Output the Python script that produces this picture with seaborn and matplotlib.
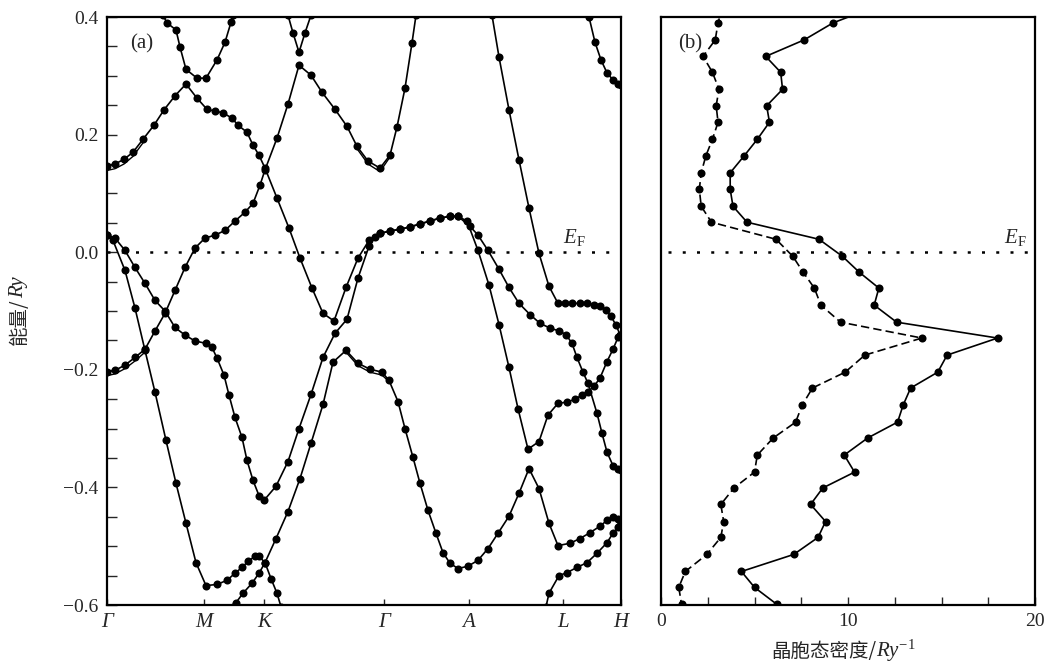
import numpy as np
import pandas as pd
import matplotlib
matplotlib.use("Agg")
import matplotlib.pyplot as plt
import seaborn as sns
from matplotlib.ticker import MultipleLocator, FixedLocator

sns.set_theme(style="white")
plt.rcParams["font.family"] = ["Liberation Serif", "Noto Sans CJK SC"]
plt.rcParams["mathtext.fontset"] = "custom"
plt.rcParams["mathtext.rm"] = "Liberation Serif"
plt.rcParams["mathtext.it"] = "Liberation Serif:italic"
plt.rcParams["axes.unicode_minus"] = True

# ---------------- data: band structure (k along path, E in Ry) ----------------
sym_labels = ["Γ", "M", "K", "Γ", "A", "L", "H"]
sym_k = [0, 97, 157, 277, 362, 456, 514]

band1_k = [0, 8, 17, 26, 36, 47, 57, 68, 79, 90, 100, 108, 116, 125, 131, 140, 146, 152, 158, 170,
           182, 193, 205, 216, 227, 239, 251, 262, 273, 283, 293, 303, 313, 323, 333, 343, 351, 360, 371, 382,
           392, 402, 411, 421, 432, 441, 451, 460, 468, 475, 481, 487, 493, 500, 506, 511, 514]
band1_E = [0.146, 0.150, 0.158, 0.170, 0.192, 0.216, 0.242, 0.266, 0.286, 0.262, 0.243, 0.240, 0.237, 0.228, 0.216, 0.204, 0.182, 0.165, 0.143, 0.092,
           0.041, -0.010, -0.061, -0.104, -0.117, -0.060, -0.010, 0.020, 0.032, 0.036, 0.039, 0.043, 0.048, 0.053, 0.058, 0.061, 0.061, 0.053, 0.003, -0.056,
           -0.123, -0.196, -0.266, -0.335, -0.322, -0.277, -0.257, -0.255, -0.250, -0.243, -0.237, -0.228, -0.214, -0.186, -0.165, -0.145, -0.141]

band2_k = [0, 8, 18, 28, 38, 48, 58, 68, 78, 88, 98, 108, 118, 128, 138, 146, 153, 158, 170, 181,
           192, 204, 215, 228, 240, 250, 261, 273, 283, 290, 298, 305, 309]
band2_E = [-0.204, -0.201, -0.192, -0.179, -0.165, -0.134, -0.104, -0.065, -0.026, 0.007, 0.024, 0.029, 0.037, 0.053, 0.068, 0.083, 0.114, 0.140, 0.194, 0.252,
           0.318, 0.301, 0.272, 0.243, 0.214, 0.180, 0.155, 0.143, 0.165, 0.213, 0.279, 0.356, 0.403]

band3_k = [0, 8, 18, 28, 38, 48, 58, 68, 78, 88, 99, 105, 110, 117, 122, 128, 135, 140, 146, 152,
           157, 169, 181, 192, 204, 216, 228, 240, 251, 262, 268, 273, 283, 293, 303, 313, 323, 333, 343, 351,
           363, 371, 381, 392, 402, 412, 423, 433, 443, 452, 459, 465, 470, 476, 481, 490, 495, 500, 506, 511, 514]
band3_E = [0.029, 0.024, 0.003, -0.026, -0.053, -0.082, -0.100, -0.128, -0.141, -0.151, -0.155, -0.162, -0.180, -0.209, -0.243, -0.281, -0.315, -0.354, -0.388, -0.414,
           -0.422, -0.398, -0.356, -0.300, -0.242, -0.179, -0.138, -0.114, -0.044, 0.010, 0.026, 0.032, 0.036, 0.039, 0.043, 0.048, 0.053, 0.058, 0.061, 0.061,
           0.044, 0.029, 0.003, -0.029, -0.060, -0.087, -0.106, -0.121, -0.129, -0.134, -0.140, -0.155, -0.179, -0.204, -0.223, -0.274, -0.308, -0.340, -0.363, -0.369, -0.371]

band4_k = [0, 6, 18, 28, 38, 48, 59, 69, 79, 89, 99, 110, 120, 128, 135, 141, 148, 152, 158, 164, 170, 174]
band4_E = [0.029, 0.020, -0.031, -0.095, -0.167, -0.238, -0.320, -0.393, -0.461, -0.528, -0.567, -0.565, -0.558, -0.546, -0.536, -0.526, -0.517, -0.517, -0.528, -0.555, -0.580, -0.603]

band5_k = [126, 129, 136, 145, 152, 158, 169, 181, 193, 204, 216, 226, 239, 251, 263, 275, 282, 291, 298, 306,
           313, 321, 329, 336, 343, 351, 361, 371, 381, 391, 402, 412, 422, 432, 442, 451, 463, 473, 483, 493,
           500, 506, 511, 514]
band5_E = [-0.603, -0.596, -0.580, -0.563, -0.546, -0.528, -0.487, -0.441, -0.385, -0.325, -0.259, -0.187, -0.167, -0.189, -0.199, -0.204, -0.218, -0.254, -0.300, -0.349,
           -0.393, -0.439, -0.478, -0.511, -0.529, -0.538, -0.534, -0.524, -0.504, -0.478, -0.449, -0.410, -0.368, -0.402, -0.461, -0.499, -0.495, -0.487, -0.477, -0.466,
           -0.456, -0.451, -0.453, -0.460]

band6_k = [439, 442, 452, 460, 470, 480, 490, 500, 506, 511, 514]
band6_E = [-0.603, -0.580, -0.550, -0.545, -0.536, -0.528, -0.512, -0.494, -0.478, -0.468, -0.463]

band7_k = [385, 392, 402, 412, 422, 432, 442, 451, 458, 465, 473, 480, 487, 493, 499, 504, 509, 513, 514]
band7_E = [0.403, 0.332, 0.242, 0.157, 0.075, -0.002, -0.058, -0.087, -0.087, -0.087, -0.087, -0.087, -0.089, -0.092, -0.099, -0.109, -0.124, -0.140, -0.141]

band8_k = [478, 482, 488, 494, 500, 506, 511, 514]
band8_E = [0.420, 0.400, 0.357, 0.327, 0.305, 0.293, 0.286, 0.284]

band9_k = [56, 60, 69, 73, 79, 90, 99, 110, 118, 124, 126]
band9_E = [0.403, 0.390, 0.378, 0.349, 0.311, 0.296, 0.296, 0.327, 0.357, 0.391, 0.403]

band10_k = [181, 186, 192, 198, 204]
band10_E = [0.403, 0.373, 0.340, 0.373, 0.403]

bands = [(band1_k, band1_E), (band2_k, band2_E), (band3_k, band3_E), (band4_k, band4_E),
         (band5_k, band5_E), (band6_k, band6_E), (band7_k, band7_E), (band8_k, band8_E),
         (band9_k, band9_E), (band10_k, band10_E)]

# second (solid, undotted) calculation where it separates from the dotted one
alt1_k = [0, 8, 17, 26, 36]
alt1_E = [0.139, 0.142, 0.150, 0.163, 0.186]
alt2_k = [0, 8, 18, 28, 38]
alt2_E = [-0.210, -0.207, -0.198, -0.185, -0.170]
alt3_k = [250, 261, 273, 283]
alt3_E = [0.176, 0.150, 0.137, 0.162]
alt4_k = [239, 251, 263, 275, 282]
alt4_E = [-0.170, -0.193, -0.204, -0.209, -0.220]
alts = [(alt1_k, alt1_E), (alt2_k, alt2_E), (alt3_k, alt3_E), (alt4_k, alt4_E)]

# ---------------- data: density of states ----------------
dos_E = [0.418, 0.390, 0.361, 0.333, 0.306, 0.277, 0.249, 0.221, 0.192, 0.164, 0.135, 0.107, 0.078, 0.051,
         0.022, -0.007, -0.034, -0.061, -0.090, -0.119, -0.146, -0.175, -0.204, -0.231, -0.260, -0.289,
         -0.316, -0.345, -0.374, -0.401, -0.429, -0.458, -0.485, -0.514, -0.543, -0.570, -0.599]
dos_solid = [11.5, 9.2, 7.65, 5.6, 6.4, 6.5, 5.65, 5.8, 5.15, 4.45, 3.7, 3.7, 3.85, 4.6, 8.45, 9.7, 10.6,
             11.65, 11.4, 12.6, 18.0, 15.3, 14.8, 13.35, 12.95, 12.65, 11.05, 9.8, 10.35, 8.65, 8.0, 8.8,
             8.4, 7.1, 4.3, 5.0, 6.2]
dos_dashed = [3.3, 3.05, 2.9, 2.25, 2.75, 3.1, 2.95, 3.05, 2.75, 2.4, 2.15, 2.05, 2.15, 2.7, 6.15, 7.05,
              7.6, 8.2, 8.55, 9.6, 13.95, 10.9, 9.85, 8.1, 7.55, 7.2, 6.0, 5.15, 5.0, 3.9, 3.2, 3.35, 3.2,
              2.45, 1.3, 0.95, 1.1]

# ---------------- figure ----------------
W, H = 1046, 664
fig = plt.figure(figsize=(W / 100, H / 100), dpi=100)
axL = fig.add_axes([107 / W, 1 - 605 / H, (621 - 107) / W, 588 / H])
axR = fig.add_axes([661 / W, 1 - 605 / H, (1035 - 661) / W, 588 / H])

line_kw = dict(color="black", linewidth=1.2, marker="o", markersize=5.8,
               markeredgewidth=0, markerfacecolor="black")

for kk, ee in alts:
    df = pd.DataFrame({"k": kk, "E": ee})
    sns.lineplot(data=df, x="k", y="E", sort=False, estimator=None, ax=axL,
                 color="black", linewidth=1.0)

for kk, ee in bands:
    df = pd.DataFrame({"k": kk, "E": ee})
    sns.lineplot(data=df, x="k", y="E", sort=False, estimator=None, ax=axL, **line_kw)

axL.set_xlim(sym_k[0], sym_k[-1])
axL.set_ylim(-0.6, 0.4)
axL.axhline(0, xmin=0.0, xmax=0.98, color="black", linestyle=(0, (1.2, 4.5)), linewidth=1.8)

axL.xaxis.set_major_locator(FixedLocator(sym_k))
axL.set_xticklabels(sym_labels, fontstyle="italic", fontsize=15, family="Liberation Serif")
axL.yaxis.set_minor_locator(MultipleLocator(0.05))
axL.set_yticks([0.4, 0.2, 0.0, -0.2, -0.4, -0.6])
axL.set_yticklabels(["0.4", "0.2", "0.0", "\u22120.2", "\u22120.4", "\u22120.6"], fontsize=14)
axL.tick_params(axis="y", which="both", direction="in", length=7, width=1.0, left=True, right=False, pad=6)
axL.tick_params(axis="x", which="major", direction="in", length=4, width=1.0, bottom=True, top=False, pad=6)
axL.set_xlabel("")
axL.set_ylabel("")
axL.text(0.045, 0.955, "(a)", transform=axL.transAxes, fontsize=15, ha="left", va="center")
axL.text(0.91, 0.625, "$E_{\\mathregular{F}}$", transform=axL.transAxes, fontsize=15, ha="center", va="center")

# DOS panel
dfs = pd.DataFrame({"dos": dos_solid, "E": dos_E})
dfd = pd.DataFrame({"dos": dos_dashed, "E": dos_E})
sns.lineplot(data=dfs, x="dos", y="E", sort=False, estimator=None, ax=axR, **line_kw)
sns.lineplot(data=dfd, x="dos", y="E", sort=False, estimator=None, ax=axR,
             linestyle=(0, (5, 2.5)), **line_kw)
axR.set_xlim(0, 20)
axR.set_ylim(-0.6, 0.4)
axR.axhline(0, xmin=0.02, xmax=0.99, color="black", linestyle=(0, (1.2, 4.5)), linewidth=1.8)
axR.set_xticks([0, 10, 20])
axR.set_xticklabels(["0", "10", "20"], fontsize=14)
axR.xaxis.set_minor_locator(MultipleLocator(2.5))
axR.set_yticks([])
axR.tick_params(axis="x", which="both", direction="in", length=6, width=1.0, bottom=True, top=False, pad=6)
axR.set_xlabel("")
axR.set_ylabel("")
axR.text(0.045, 0.955, "(b)", transform=axR.transAxes, fontsize=15, ha="left", va="center")
axR.text(0.946, 0.625, "$E_{\\mathregular{F}}$", transform=axR.transAxes, fontsize=15, ha="center", va="center")

for ax in (axL, axR):
    for s in ax.spines.values():
        s.set_color("black")
        s.set_linewidth(1.6)

# axis titles (CJK part + italic unit part)
cjk = ["Noto Sans CJK SC", "DejaVu Sans"]
fig.text(19 / W, 1 - 298 / H, "能量/", rotation=90, ha="center", va="top", fontsize=14, family=cjk)
fig.text(19 / W, 1 - 298 / H, "Ry", rotation=90, ha="center", va="bottom", fontsize=15,
         family="Liberation Serif", style="italic")
fig.text(876 / W, 1 - 657 / H, "晶胞态密度/", ha="right", va="baseline", fontsize=14, family=cjk)
fig.text(876 / W, 1 - 657 / H, "$Ry^{-1}$", ha="left", va="baseline", fontsize=15)

fig.savefig("out.png", dpi=100)
